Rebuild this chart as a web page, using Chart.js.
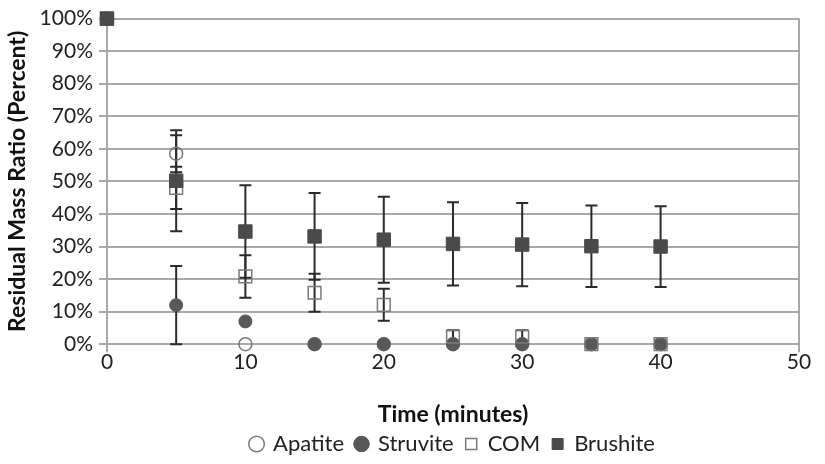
<!DOCTYPE html>
<html>
<head>
<meta charset="utf-8">
<script src="https://cdn.jsdelivr.net/npm/chart.js@4.4.1/dist/chart.umd.min.js"></script>
<style>
  html, body { margin: 0; padding: 0; background: #fff; }
  #wrap { width: 825px; height: 464px; position: relative; }
</style>
</head>
<body>
<div id="wrap"><canvas id="massChart"></canvas></div>
<script>
// --- Data ---
const times = [0, 5, 10, 15, 20, 25, 30, 35, 40];
const apatite = [100, 58.5, 0, 0, 0, 0, 0, 0, 0];
const struvite = [100, 12, 7, 0, 0, 0, 0, 0, 0];
const com = [100, 48, 20.8, 15.8, 12.1, 2.3, 2.3, 0, 0];
const brushite = [100, 50.2, 34.6, 33.1, 32.1, 30.8, 30.6, 30.1, 30.0];

const apatiteErr = [0, 5.7, 0, 0, 0, 0, 0, 0, 0];
const struviteErr = [0, 12, 0, 0, 0, 0, 0, 0, 0];
const comErr = [0, 6.5, 6.5, 5.8, 4.9, 2, 2, 0, 0];
const brushiteErr = [0, 15.5, 14.2, 13.3, 13.2, 12.8, 12.8, 12.5, 12.4];

const yTicks = [0, 10, 20, 30, 40, 50, 60, 70, 80, 90, 100];
const xTicks = [0, 10, 20, 30, 40, 50];

const FONT = 'Lato, "Open Sans", sans-serif';

function pts(ys, errs) {
    return times.map((t, i) => ({ x: t, y: ys[i], err: errs[i] }));
}

// error bars through the chart's own scales
const errorBars = {
    id: 'errorBars',
    beforeDatasetsDraw(chart) {
        const { ctx, scales: { x, y } } = chart;
        ctx.save();
        ctx.strokeStyle = '#2b2b2b';
        ctx.lineWidth = 2;
        chart.data.datasets.forEach(ds => {
            ds.data.forEach(p => {
                if (!p.err) return;
                const px = x.getPixelForValue(p.x);
                const top = y.getPixelForValue(p.y + p.err);
                const bot = y.getPixelForValue(Math.max(0, p.y - p.err));
                ctx.beginPath();
                ctx.moveTo(px, top); ctx.lineTo(px, bot);
                ctx.moveTo(px - 6, top); ctx.lineTo(px + 6, top);
                ctx.moveTo(px - 6, bot); ctx.lineTo(px + 6, bot);
                ctx.stroke();
            });
        });
        ctx.restore();
    }
};

const ctx = document.getElementById('massChart').getContext('2d');
new Chart(ctx, {
    type: 'scatter',
    data: {
        datasets: [
            { label: 'Apatite', data: pts(apatite, apatiteErr), pointStyle: 'circle', pointRadius: 6.5, borderWidth: 1.5, borderColor: '#7a7a7a', backgroundColor: 'rgba(255,255,255,0)', order: 3, clip: false },
            { label: 'Struvite', data: pts(struvite, struviteErr), pointStyle: 'circle', pointRadius: 6.5, borderWidth: 1, borderColor: '#585858', backgroundColor: '#585858', order: 2, clip: false },
            { label: 'COM', data: pts(com, comErr), pointStyle: 'rect', pointRadius: 9, borderWidth: 1.5, borderColor: '#7a7a7a', backgroundColor: 'rgba(255,255,255,0)', order: 1, clip: false },
            { label: 'Brushite', data: pts(brushite, brushiteErr), pointStyle: 'rect', pointRadius: 9.5, borderWidth: 1, borderColor: '#4a4a4a', backgroundColor: '#4a4a4a', order: 0, clip: false }
        ]
    },
    options: {
        responsive: true,
        maintainAspectRatio: false,
        animation: false,
        layout: { padding: { top: 7, right: 26, left: 4, bottom: 0 } },
        plugins: {
            tooltip: { enabled: false },
            legend: {
                position: 'bottom',
                fullSize: false,
                maxHeight: 43,
                labels: {
                    usePointStyle: true,
                    boxWidth: 11,
                    boxHeight: 11,
                    padding: 12,
                    color: '#222',
                    font: { family: FONT, size: 22 },
                    sort: (a, b) => a.datasetIndex - b.datasetIndex
                }
            }
        },
        scales: {
            x: {
                type: 'linear',
                min: 0, max: 50,
                afterBuildTicks: axis => { axis.ticks = xTicks.map(v => ({ value: v })); },
                grid: {
                    color: c => (c.tick && (c.tick.value === 0 || c.tick.value === 50)) ? '#a8a8a8' : 'rgba(0,0,0,0)',
                    lineWidth: 2,
                    tickLength: 8,
                    drawTicks: true
                },
                border: { display: false },
                ticks: { color: '#222', font: { family: FONT, size: 21 }, padding: -3 },
                title: { display: true, text: 'Time (minutes)', color: '#111', font: { family: FONT, size: 23, weight: 'bold' }, padding: { top: 29, bottom: -7 } }
            },
            y: {
                min: 0, max: 100,
                afterBuildTicks: axis => { axis.ticks = yTicks.map(v => ({ value: v })); },
                grid: { color: '#a8a8a8', lineWidth: 2, tickLength: 8 },
                border: { display: false },
                ticks: { color: '#222', font: { family: FONT, size: 21 }, padding: 6, callback: v => v + '%' },
                title: { display: true, text: 'Residual Mass Ratio (Percent)', color: '#111', font: { family: FONT, size: 23, weight: 'bold' }, padding: { top: 0, bottom: 2 } }
            }
        }
    },
    plugins: [errorBars]
});
</script>
</body>
</html>
